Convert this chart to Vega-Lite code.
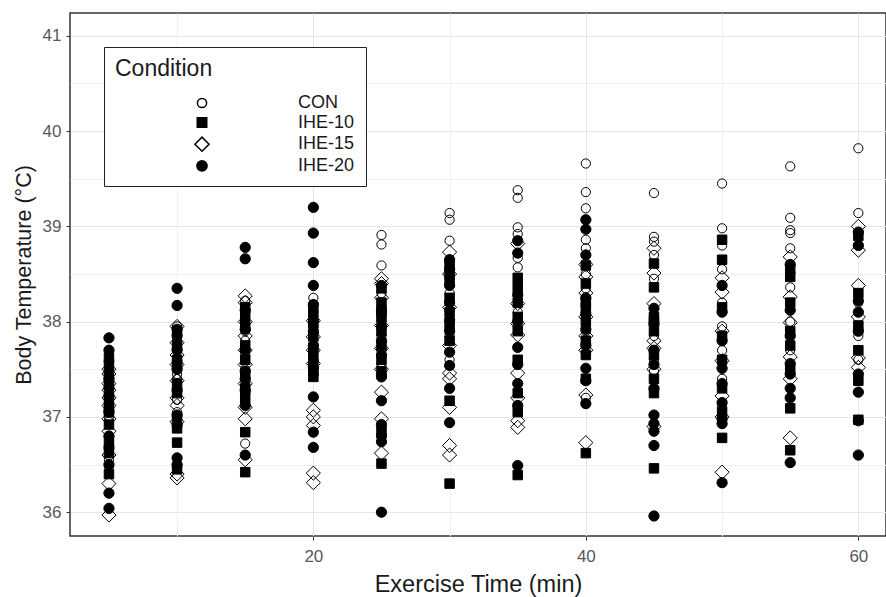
{
  "$schema": "https://vega.github.io/schema/vega-lite/v6.json",
  "width": 816,
  "height": 523,
  "autosize": {"type": "none"},
  "padding": {"left": 70, "top": 13, "right": 0, "bottom": 61},
  "background": "white",
  "config": {
    "font": "Liberation Sans",
    "view": {"stroke": "#333333", "strokeWidth": 1.5},
    "axis": {
      "domain": false,
      "labelFont": "Liberation Sans",
      "labelFontSize": 17,
      "labelColor": "#595959",
      "titleFont": "Liberation Sans",
      "titleFontWeight": "normal",
      "titleColor": "#1a1a1a",
      "tickColor": "#333333",
      "tickSize": 4,
      "gridWidth": 1
    },
    "legend": {
      "titleFont": "Liberation Sans",
      "titleFontSize": 23,
      "titleFontWeight": "normal",
      "titleColor": "#1a1a1a",
      "labelFont": "Liberation Sans",
      "labelFontSize": 18,
      "labelColor": "#1a1a1a"
    }
  },
  "data": {
    "values": [
      {"t":5,"c":"CON","v":37.52},{"t":5,"c":"CON","v":37.40},{"t":5,"c":"CON","v":37.30},{"t":5,"c":"CON","v":37.25},{"t":5,"c":"CON","v":37.15},{"t":5,"c":"CON","v":37.10},{"t":5,"c":"CON","v":37.00},{"t":5,"c":"CON","v":36.95},{"t":5,"c":"CON","v":36.70},{"t":5,"c":"CON","v":36.55},{"t":5,"c":"CON","v":36.48},
      {"t":5,"c":"IHE-10","v":37.62},{"t":5,"c":"IHE-10","v":37.55},{"t":5,"c":"IHE-10","v":37.45},{"t":5,"c":"IHE-10","v":37.35},{"t":5,"c":"IHE-10","v":37.20},{"t":5,"c":"IHE-10","v":37.10},{"t":5,"c":"IHE-10","v":37.05},{"t":5,"c":"IHE-10","v":36.92},{"t":5,"c":"IHE-10","v":36.75},{"t":5,"c":"IHE-10","v":36.62},{"t":5,"c":"IHE-10","v":36.40},
      {"t":5,"c":"IHE-15","v":37.50},{"t":5,"c":"IHE-15","v":37.45},{"t":5,"c":"IHE-15","v":37.35},{"t":5,"c":"IHE-15","v":37.28},{"t":5,"c":"IHE-15","v":37.20},{"t":5,"c":"IHE-15","v":37.12},{"t":5,"c":"IHE-15","v":36.98},{"t":5,"c":"IHE-15","v":36.85},{"t":5,"c":"IHE-15","v":36.60},{"t":5,"c":"IHE-15","v":36.30},{"t":5,"c":"IHE-15","v":35.97},
      {"t":5,"c":"IHE-20","v":37.83},{"t":5,"c":"IHE-20","v":37.70},{"t":5,"c":"IHE-20","v":37.40},{"t":5,"c":"IHE-20","v":37.30},{"t":5,"c":"IHE-20","v":37.22},{"t":5,"c":"IHE-20","v":37.05},{"t":5,"c":"IHE-20","v":36.80},{"t":5,"c":"IHE-20","v":36.68},{"t":5,"c":"IHE-20","v":36.50},{"t":5,"c":"IHE-20","v":36.20},{"t":5,"c":"IHE-20","v":36.04},

      {"t":10,"c":"CON","v":37.95},{"t":10,"c":"CON","v":37.80},{"t":10,"c":"CON","v":37.70},{"t":10,"c":"CON","v":37.62},{"t":10,"c":"CON","v":37.45},{"t":10,"c":"CON","v":37.40},{"t":10,"c":"CON","v":37.30},{"t":10,"c":"CON","v":37.18},{"t":10,"c":"CON","v":37.05},{"t":10,"c":"CON","v":36.90},{"t":10,"c":"CON","v":36.48},
      {"t":10,"c":"IHE-10","v":37.90},{"t":10,"c":"IHE-10","v":37.75},{"t":10,"c":"IHE-10","v":37.60},{"t":10,"c":"IHE-10","v":37.55},{"t":10,"c":"IHE-10","v":37.35},{"t":10,"c":"IHE-10","v":37.25},{"t":10,"c":"IHE-10","v":37.00},{"t":10,"c":"IHE-10","v":36.88},{"t":10,"c":"IHE-10","v":36.73},{"t":10,"c":"IHE-10","v":36.45},
      {"t":10,"c":"IHE-15","v":37.95},{"t":10,"c":"IHE-15","v":37.78},{"t":10,"c":"IHE-15","v":37.65},{"t":10,"c":"IHE-15","v":37.55},{"t":10,"c":"IHE-15","v":37.38},{"t":10,"c":"IHE-15","v":37.20},{"t":10,"c":"IHE-15","v":37.12},{"t":10,"c":"IHE-15","v":36.95},{"t":10,"c":"IHE-15","v":36.40},{"t":10,"c":"IHE-15","v":36.36},
      {"t":10,"c":"IHE-20","v":38.35},{"t":10,"c":"IHE-20","v":38.17},{"t":10,"c":"IHE-20","v":37.92},{"t":10,"c":"IHE-20","v":37.85},{"t":10,"c":"IHE-20","v":37.70},{"t":10,"c":"IHE-20","v":37.50},{"t":10,"c":"IHE-20","v":37.28},{"t":10,"c":"IHE-20","v":37.02},{"t":10,"c":"IHE-20","v":36.92},{"t":10,"c":"IHE-20","v":36.57},{"t":10,"c":"IHE-20","v":36.50},

      {"t":15,"c":"CON","v":38.22},{"t":15,"c":"CON","v":38.10},{"t":15,"c":"CON","v":37.98},{"t":15,"c":"CON","v":37.90},{"t":15,"c":"CON","v":37.80},{"t":15,"c":"CON","v":37.65},{"t":15,"c":"CON","v":37.50},{"t":15,"c":"CON","v":37.38},{"t":15,"c":"CON","v":37.25},{"t":15,"c":"CON","v":37.15},{"t":15,"c":"CON","v":36.72},
      {"t":15,"c":"IHE-10","v":38.15},{"t":15,"c":"IHE-10","v":38.05},{"t":15,"c":"IHE-10","v":37.95},{"t":15,"c":"IHE-10","v":37.75},{"t":15,"c":"IHE-10","v":37.60},{"t":15,"c":"IHE-10","v":37.45},{"t":15,"c":"IHE-10","v":37.30},{"t":15,"c":"IHE-10","v":37.20},{"t":15,"c":"IHE-10","v":36.84},{"t":15,"c":"IHE-10","v":36.42},
      {"t":15,"c":"IHE-15","v":38.27},{"t":15,"c":"IHE-15","v":38.20},{"t":15,"c":"IHE-15","v":38.00},{"t":15,"c":"IHE-15","v":37.85},{"t":15,"c":"IHE-15","v":37.70},{"t":15,"c":"IHE-15","v":37.55},{"t":15,"c":"IHE-15","v":37.35},{"t":15,"c":"IHE-15","v":37.10},{"t":15,"c":"IHE-15","v":36.98},{"t":15,"c":"IHE-15","v":36.55},
      {"t":15,"c":"IHE-20","v":38.78},{"t":15,"c":"IHE-20","v":38.66},{"t":15,"c":"IHE-20","v":38.12},{"t":15,"c":"IHE-20","v":37.92},{"t":15,"c":"IHE-20","v":37.70},{"t":15,"c":"IHE-20","v":37.48},{"t":15,"c":"IHE-20","v":37.40},{"t":15,"c":"IHE-20","v":37.28},{"t":15,"c":"IHE-20","v":37.12},{"t":15,"c":"IHE-20","v":36.60},

      {"t":20,"c":"CON","v":38.25},{"t":20,"c":"CON","v":38.10},{"t":20,"c":"CON","v":38.00},{"t":20,"c":"CON","v":37.95},{"t":20,"c":"CON","v":37.88},{"t":20,"c":"CON","v":37.80},{"t":20,"c":"CON","v":37.70},{"t":20,"c":"CON","v":37.60},{"t":20,"c":"CON","v":37.50},{"t":20,"c":"CON","v":37.45},
      {"t":20,"c":"IHE-10","v":38.15},{"t":20,"c":"IHE-10","v":38.05},{"t":20,"c":"IHE-10","v":37.98},{"t":20,"c":"IHE-10","v":37.85},{"t":20,"c":"IHE-10","v":37.72},{"t":20,"c":"IHE-10","v":37.62},{"t":20,"c":"IHE-10","v":37.55},{"t":20,"c":"IHE-10","v":37.48},{"t":20,"c":"IHE-10","v":37.42},
      {"t":20,"c":"IHE-15","v":38.01},{"t":20,"c":"IHE-15","v":37.84},{"t":20,"c":"IHE-15","v":37.70},{"t":20,"c":"IHE-15","v":37.56},{"t":20,"c":"IHE-15","v":37.07},{"t":20,"c":"IHE-15","v":37.00},{"t":20,"c":"IHE-15","v":36.91},{"t":20,"c":"IHE-15","v":36.41},{"t":20,"c":"IHE-15","v":36.31},
      {"t":20,"c":"IHE-20","v":39.20},{"t":20,"c":"IHE-20","v":38.93},{"t":20,"c":"IHE-20","v":38.62},{"t":20,"c":"IHE-20","v":38.38},{"t":20,"c":"IHE-20","v":38.18},{"t":20,"c":"IHE-20","v":37.90},{"t":20,"c":"IHE-20","v":37.75},{"t":20,"c":"IHE-20","v":37.52},{"t":20,"c":"IHE-20","v":37.21},{"t":20,"c":"IHE-20","v":36.84},{"t":20,"c":"IHE-20","v":36.68},

      {"t":25,"c":"CON","v":38.91},{"t":25,"c":"CON","v":38.81},{"t":25,"c":"CON","v":38.59},{"t":25,"c":"CON","v":38.30},{"t":25,"c":"CON","v":38.15},{"t":25,"c":"CON","v":38.00},{"t":25,"c":"CON","v":37.85},{"t":25,"c":"CON","v":37.70},{"t":25,"c":"CON","v":37.55},{"t":25,"c":"CON","v":37.45},
      {"t":25,"c":"IHE-10","v":38.35},{"t":25,"c":"IHE-10","v":38.20},{"t":25,"c":"IHE-10","v":38.10},{"t":25,"c":"IHE-10","v":38.05},{"t":25,"c":"IHE-10","v":37.90},{"t":25,"c":"IHE-10","v":37.75},{"t":25,"c":"IHE-10","v":37.60},{"t":25,"c":"IHE-10","v":37.48},{"t":25,"c":"IHE-10","v":36.85},{"t":25,"c":"IHE-10","v":36.51},
      {"t":25,"c":"IHE-15","v":38.45},{"t":25,"c":"IHE-15","v":38.40},{"t":25,"c":"IHE-15","v":38.25},{"t":25,"c":"IHE-15","v":37.96},{"t":25,"c":"IHE-15","v":37.72},{"t":25,"c":"IHE-15","v":37.50},{"t":25,"c":"IHE-15","v":37.26},{"t":25,"c":"IHE-15","v":36.98},{"t":25,"c":"IHE-15","v":36.62},
      {"t":25,"c":"IHE-20","v":38.38},{"t":25,"c":"IHE-20","v":38.12},{"t":25,"c":"IHE-20","v":37.95},{"t":25,"c":"IHE-20","v":37.80},{"t":25,"c":"IHE-20","v":37.65},{"t":25,"c":"IHE-20","v":37.42},{"t":25,"c":"IHE-20","v":37.17},{"t":25,"c":"IHE-20","v":36.92},{"t":25,"c":"IHE-20","v":36.80},{"t":25,"c":"IHE-20","v":36.74},{"t":25,"c":"IHE-20","v":36.00},

      {"t":30,"c":"CON","v":39.14},{"t":30,"c":"CON","v":39.07},{"t":30,"c":"CON","v":38.85},{"t":30,"c":"CON","v":38.62},{"t":30,"c":"CON","v":38.48},{"t":30,"c":"CON","v":38.30},{"t":30,"c":"CON","v":38.12},{"t":30,"c":"CON","v":38.00},{"t":30,"c":"CON","v":37.85},{"t":30,"c":"CON","v":37.60},
      {"t":30,"c":"IHE-10","v":38.60},{"t":30,"c":"IHE-10","v":38.50},{"t":30,"c":"IHE-10","v":38.42},{"t":30,"c":"IHE-10","v":38.25},{"t":30,"c":"IHE-10","v":38.10},{"t":30,"c":"IHE-10","v":37.95},{"t":30,"c":"IHE-10","v":37.80},{"t":30,"c":"IHE-10","v":37.17},{"t":30,"c":"IHE-10","v":36.30},
      {"t":30,"c":"IHE-15","v":38.73},{"t":30,"c":"IHE-15","v":38.50},{"t":30,"c":"IHE-15","v":38.15},{"t":30,"c":"IHE-15","v":37.75},{"t":30,"c":"IHE-15","v":37.46},{"t":30,"c":"IHE-15","v":37.40},{"t":30,"c":"IHE-15","v":37.10},{"t":30,"c":"IHE-15","v":36.70},{"t":30,"c":"IHE-15","v":36.60},
      {"t":30,"c":"IHE-20","v":38.65},{"t":30,"c":"IHE-20","v":38.55},{"t":30,"c":"IHE-20","v":38.38},{"t":30,"c":"IHE-20","v":38.20},{"t":30,"c":"IHE-20","v":38.02},{"t":30,"c":"IHE-20","v":37.90},{"t":30,"c":"IHE-20","v":37.68},{"t":30,"c":"IHE-20","v":37.54},{"t":30,"c":"IHE-20","v":37.30},{"t":30,"c":"IHE-20","v":36.94},

      {"t":35,"c":"CON","v":39.38},{"t":35,"c":"CON","v":39.30},{"t":35,"c":"CON","v":38.99},{"t":35,"c":"CON","v":38.92},{"t":35,"c":"CON","v":38.67},{"t":35,"c":"CON","v":38.57},{"t":35,"c":"CON","v":38.30},{"t":35,"c":"CON","v":38.10},{"t":35,"c":"CON","v":37.95},
      {"t":35,"c":"IHE-10","v":38.46},{"t":35,"c":"IHE-10","v":38.36},{"t":35,"c":"IHE-10","v":38.20},{"t":35,"c":"IHE-10","v":38.05},{"t":35,"c":"IHE-10","v":37.90},{"t":35,"c":"IHE-10","v":37.60},{"t":35,"c":"IHE-10","v":37.25},{"t":35,"c":"IHE-10","v":37.05},{"t":35,"c":"IHE-10","v":36.39},
      {"t":35,"c":"IHE-15","v":38.82},{"t":35,"c":"IHE-15","v":38.19},{"t":35,"c":"IHE-15","v":37.98},{"t":35,"c":"IHE-15","v":37.86},{"t":35,"c":"IHE-15","v":37.46},{"t":35,"c":"IHE-15","v":37.20},{"t":35,"c":"IHE-15","v":36.96},{"t":35,"c":"IHE-15","v":36.89},
      {"t":35,"c":"IHE-20","v":38.85},{"t":35,"c":"IHE-20","v":38.72},{"t":35,"c":"IHE-20","v":38.28},{"t":35,"c":"IHE-20","v":38.00},{"t":35,"c":"IHE-20","v":37.73},{"t":35,"c":"IHE-20","v":37.55},{"t":35,"c":"IHE-20","v":37.35},{"t":35,"c":"IHE-20","v":37.12},{"t":35,"c":"IHE-20","v":36.49},

      {"t":40,"c":"CON","v":39.66},{"t":40,"c":"CON","v":39.36},{"t":40,"c":"CON","v":39.19},{"t":40,"c":"CON","v":38.86},{"t":40,"c":"CON","v":38.77},{"t":40,"c":"CON","v":38.50},{"t":40,"c":"CON","v":38.35},{"t":40,"c":"CON","v":38.10},{"t":40,"c":"CON","v":37.90},{"t":40,"c":"CON","v":37.20},
      {"t":40,"c":"IHE-10","v":38.59},{"t":40,"c":"IHE-10","v":38.40},{"t":40,"c":"IHE-10","v":38.20},{"t":40,"c":"IHE-10","v":38.15},{"t":40,"c":"IHE-10","v":38.00},{"t":40,"c":"IHE-10","v":37.80},{"t":40,"c":"IHE-10","v":37.65},{"t":40,"c":"IHE-10","v":37.40},{"t":40,"c":"IHE-10","v":36.62},
      {"t":40,"c":"IHE-15","v":38.60},{"t":40,"c":"IHE-15","v":38.47},{"t":40,"c":"IHE-15","v":38.30},{"t":40,"c":"IHE-15","v":38.05},{"t":40,"c":"IHE-15","v":37.85},{"t":40,"c":"IHE-15","v":37.70},{"t":40,"c":"IHE-15","v":37.23},{"t":40,"c":"IHE-15","v":36.73},
      {"t":40,"c":"IHE-20","v":39.07},{"t":40,"c":"IHE-20","v":38.97},{"t":40,"c":"IHE-20","v":38.70},{"t":40,"c":"IHE-20","v":38.25},{"t":40,"c":"IHE-20","v":38.08},{"t":40,"c":"IHE-20","v":37.92},{"t":40,"c":"IHE-20","v":37.75},{"t":40,"c":"IHE-20","v":37.51},{"t":40,"c":"IHE-20","v":37.38},{"t":40,"c":"IHE-20","v":37.14},

      {"t":45,"c":"CON","v":39.35},{"t":45,"c":"CON","v":38.89},{"t":45,"c":"CON","v":38.84},{"t":45,"c":"CON","v":38.70},{"t":45,"c":"CON","v":38.45},{"t":45,"c":"CON","v":38.05},{"t":45,"c":"CON","v":37.85},{"t":45,"c":"CON","v":37.60},{"t":45,"c":"CON","v":37.48},
      {"t":45,"c":"IHE-10","v":38.61},{"t":45,"c":"IHE-10","v":38.36},{"t":45,"c":"IHE-10","v":38.05},{"t":45,"c":"IHE-10","v":38.00},{"t":45,"c":"IHE-10","v":37.90},{"t":45,"c":"IHE-10","v":37.65},{"t":45,"c":"IHE-10","v":37.40},{"t":45,"c":"IHE-10","v":37.25},{"t":45,"c":"IHE-10","v":36.46},
      {"t":45,"c":"IHE-15","v":38.77},{"t":45,"c":"IHE-15","v":38.51},{"t":45,"c":"IHE-15","v":38.19},{"t":45,"c":"IHE-15","v":37.80},{"t":45,"c":"IHE-15","v":37.72},{"t":45,"c":"IHE-15","v":37.50},{"t":45,"c":"IHE-15","v":36.90},
      {"t":45,"c":"IHE-20","v":38.14},{"t":45,"c":"IHE-20","v":37.98},{"t":45,"c":"IHE-20","v":37.70},{"t":45,"c":"IHE-20","v":37.55},{"t":45,"c":"IHE-20","v":37.30},{"t":45,"c":"IHE-20","v":37.02},{"t":45,"c":"IHE-20","v":36.93},{"t":45,"c":"IHE-20","v":36.85},{"t":45,"c":"IHE-20","v":36.70},{"t":45,"c":"IHE-20","v":35.96},

      {"t":50,"c":"CON","v":39.45},{"t":50,"c":"CON","v":38.98},{"t":50,"c":"CON","v":38.80},{"t":50,"c":"CON","v":38.55},{"t":50,"c":"CON","v":38.20},{"t":50,"c":"CON","v":37.95},{"t":50,"c":"CON","v":37.70},{"t":50,"c":"CON","v":37.40},{"t":50,"c":"CON","v":37.10},
      {"t":50,"c":"IHE-10","v":38.86},{"t":50,"c":"IHE-10","v":38.65},{"t":50,"c":"IHE-10","v":38.15},{"t":50,"c":"IHE-10","v":37.85},{"t":50,"c":"IHE-10","v":37.60},{"t":50,"c":"IHE-10","v":37.30},{"t":50,"c":"IHE-10","v":37.05},{"t":50,"c":"IHE-10","v":36.78},
      {"t":50,"c":"IHE-15","v":38.46},{"t":50,"c":"IHE-15","v":38.31},{"t":50,"c":"IHE-15","v":37.90},{"t":50,"c":"IHE-15","v":37.59},{"t":50,"c":"IHE-15","v":37.22},{"t":50,"c":"IHE-15","v":37.00},{"t":50,"c":"IHE-15","v":36.42},
      {"t":50,"c":"IHE-20","v":38.38},{"t":50,"c":"IHE-20","v":38.10},{"t":50,"c":"IHE-20","v":37.80},{"t":50,"c":"IHE-20","v":37.51},{"t":50,"c":"IHE-20","v":37.35},{"t":50,"c":"IHE-20","v":37.15},{"t":50,"c":"IHE-20","v":36.98},{"t":50,"c":"IHE-20","v":36.93},{"t":50,"c":"IHE-20","v":36.31},

      {"t":55,"c":"CON","v":39.63},{"t":55,"c":"CON","v":39.09},{"t":55,"c":"CON","v":38.96},{"t":55,"c":"CON","v":38.93},{"t":55,"c":"CON","v":38.77},{"t":55,"c":"CON","v":38.36},{"t":55,"c":"CON","v":38.00},{"t":55,"c":"CON","v":37.70},
      {"t":55,"c":"IHE-10","v":38.55},{"t":55,"c":"IHE-10","v":38.47},{"t":55,"c":"IHE-10","v":38.20},{"t":55,"c":"IHE-10","v":37.90},{"t":55,"c":"IHE-10","v":37.75},{"t":55,"c":"IHE-10","v":37.50},{"t":55,"c":"IHE-10","v":37.09},{"t":55,"c":"IHE-10","v":36.65},
      {"t":55,"c":"IHE-15","v":38.68},{"t":55,"c":"IHE-15","v":38.26},{"t":55,"c":"IHE-15","v":37.99},{"t":55,"c":"IHE-15","v":37.63},{"t":55,"c":"IHE-15","v":37.40},{"t":55,"c":"IHE-15","v":36.78},
      {"t":55,"c":"IHE-20","v":38.60},{"t":55,"c":"IHE-20","v":38.12},{"t":55,"c":"IHE-20","v":37.85},{"t":55,"c":"IHE-20","v":37.56},{"t":55,"c":"IHE-20","v":37.45},{"t":55,"c":"IHE-20","v":37.30},{"t":55,"c":"IHE-20","v":37.20},{"t":55,"c":"IHE-20","v":36.52},

      {"t":60,"c":"CON","v":39.82},{"t":60,"c":"CON","v":39.14},{"t":60,"c":"CON","v":38.80},{"t":60,"c":"CON","v":38.20},{"t":60,"c":"CON","v":37.85},{"t":60,"c":"CON","v":37.60},
      {"t":60,"c":"IHE-10","v":38.90},{"t":60,"c":"IHE-10","v":38.30},{"t":60,"c":"IHE-10","v":37.96},{"t":60,"c":"IHE-10","v":37.70},{"t":60,"c":"IHE-10","v":37.38},{"t":60,"c":"IHE-10","v":36.97},
      {"t":60,"c":"IHE-15","v":39.00},{"t":60,"c":"IHE-15","v":38.75},{"t":60,"c":"IHE-15","v":38.38},{"t":60,"c":"IHE-15","v":38.05},{"t":60,"c":"IHE-15","v":37.62},{"t":60,"c":"IHE-15","v":37.52},
      {"t":60,"c":"IHE-20","v":38.94},{"t":60,"c":"IHE-20","v":38.80},{"t":60,"c":"IHE-20","v":38.22},{"t":60,"c":"IHE-20","v":38.10},{"t":60,"c":"IHE-20","v":37.90},{"t":60,"c":"IHE-20","v":37.45},{"t":60,"c":"IHE-20","v":37.26},{"t":60,"c":"IHE-20","v":36.96},{"t":60,"c":"IHE-20","v":36.60}
    ]
  },
  "mark": {"type": "point", "filled": true, "stroke": "black", "strokeWidth": 1, "opacity": 1},
  "encoding": {
    "x": {
      "field": "t",
      "type": "quantitative",
      "title": "Exercise Time (min)",
      "scale": {"domain": [2.14, 62.03], "nice": false, "zero": false},
      "axis": {
        "values": [10, 20, 30, 40, 50, 60],
        "labelExpr": "datum.value % 20 === 0 ? format(datum.value, 'd') : ''",
        "tickOpacity": {"condition": {"test": "datum.value % 20 === 0", "value": 1}, "value": 0},
        "gridColor": {"condition": {"test": "datum.value % 20 === 0", "value": "#E6E6E6"}, "value": "#F0F0F0"},
        "labelPadding": 8,
        "titleFontSize": 23.5,
        "titlePadding": 8
      }
    },
    "y": {
      "field": "v",
      "type": "quantitative",
      "title": "Body Temperature (°C)",
      "scale": {"domain": [35.75, 41.24], "nice": false, "zero": false},
      "axis": {
        "values": [36, 36.5, 37, 37.5, 38, 38.5, 39, 39.5, 40, 40.5, 41],
        "labelExpr": "datum.value % 1 === 0 ? format(datum.value, 'd') : ''",
        "tickOpacity": {"condition": {"test": "datum.value % 1 === 0", "value": 1}, "value": 0},
        "gridColor": {"condition": {"test": "datum.value % 1 === 0", "value": "#E6E6E6"}, "value": "#F0F0F0"},
        "labelPadding": 5,
        "titleFontSize": 21.5,
        "titlePadding": 7
      }
    },
    "shape": {
      "field": "c",
      "type": "nominal",
      "title": "Condition",
      "scale": {"domain": ["CON", "IHE-10", "IHE-15", "IHE-20"], "range": ["circle", "square", "diamond", "circle"]},
      "legend": {
        "orient": "none", "legendX": 34, "legendY": 34,
        "padding": 11, "strokeColor": "#222222", "fillColor": "white",
        "symbolOffset": 78, "labelOffset": 87, "rowPadding": 1.6, "titlePadding": 13
      }
    },
    "size": {
      "field": "c",
      "type": "nominal",
      "title": "Condition",
      "scale": {"type": "ordinal", "domain": ["CON", "IHE-10", "IHE-15", "IHE-20"], "range": [85, 90, 200, 105]},
      "legend": {
        "orient": "none", "legendX": 34, "legendY": 34,
        "padding": 11, "strokeColor": "#222222", "fillColor": "white",
        "symbolOffset": 78, "labelOffset": 87, "rowPadding": 1.6, "titlePadding": 13
      }
    },
    "fill": {
      "field": "c",
      "type": "nominal",
      "title": "Condition",
      "scale": {"domain": ["CON", "IHE-10", "IHE-15", "IHE-20"], "range": ["rgba(0,0,0,0)", "black", "rgba(0,0,0,0)", "black"]},
      "legend": {
        "orient": "none", "legendX": 34, "legendY": 34,
        "padding": 11, "strokeColor": "#222222", "fillColor": "white",
        "symbolOffset": 78, "labelOffset": 87, "rowPadding": 1.6, "titlePadding": 13
      }
    }
  }
}
